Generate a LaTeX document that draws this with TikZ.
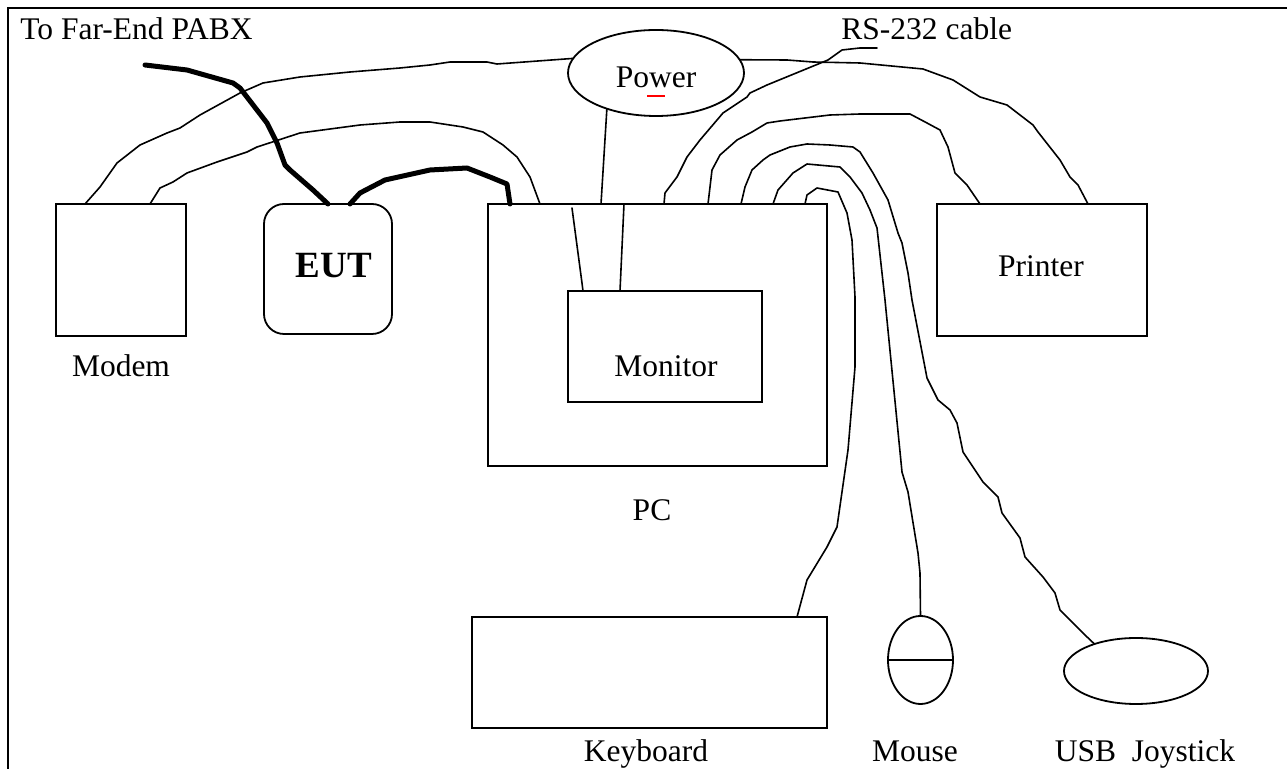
\documentclass[tikz,border=0pt]{standalone}
\usepackage{fontspec}
\setmainfont{Liberation Serif}
\usetikzlibrary{shapes.geometric,calc}
\tikzset{
  box/.style={draw, line width=0.9pt, inner sep=0pt, outer sep=0pt},
  oval/.style={draw, ellipse, line width=0.9pt, inner sep=0pt, outer sep=0pt},
  cable/.style={line width=0.8pt, line join=round, line cap=round},
  heavy/.style={line width=2.5pt, line join=round, line cap=round},
  lbl/.style={anchor=base, inner sep=0pt, font=\fontsize{15.75}{18}\selectfont},
  lblw/.style={anchor=base west, inner sep=0pt, font=\fontsize{15.75}{18}\selectfont},
}
\begin{document}
\begin{tikzpicture}[x=0.5pt,y=-0.5pt]
\useasboundingbox (0,0) rectangle (1287,769);
% frame
\draw[line width=1pt] (1287,8) -- (8,8) -- (8,769);

% devices
\node[box, minimum width=65pt, minimum height=66pt] (modem) at (121,270) {};
\node[box, rounded corners=10pt, minimum width=64pt, minimum height=65pt] (eut) at (328,269) {};
\node[box, minimum width=169.5pt, minimum height=131pt] (pc) at (657.5,335) {};
\node[box, minimum width=97pt, minimum height=55.5pt] (mon) at (665,346.5) {};
\node[box, minimum width=105pt, minimum height=66pt] (pr) at (1042,270) {};
\node[oval, minimum width=88pt, minimum height=43pt] (pw) at (656,73) {};
\node[box, minimum width=177.5pt, minimum height=55.5pt] (kb) at (649.5,672.5) {};
\node[oval, minimum width=32.5pt, minimum height=44pt] (mouse) at (920.5,660) {};
\node[oval, minimum width=72pt, minimum height=33pt] (joy) at (1136,671) {};
\draw[line width=0.9pt] (mouse.west) -- (mouse.east);

% labels
\node[lblw] (tpabx) at (20,40) {To Far-End PABX};
\node[lblw] (trs) at (841,40) {RS-232 cable};
\node[lbl] (tpw) at (656,88) {Power};
\draw[red, line width=1.2pt] (647,96) -- (665,96);
\node[lbl] (tmodem) at (121,377) {Modem};
\node[lbl, font=\fontsize{18.5}{22}\selectfont\bfseries] (teut) at (334,278) {EUT};
\node[lbl] (tmon) at (666,377) {Monitor};
\node[lbl] (tpr) at (1041,277) {Printer};
\node[lbl] (tpc) at (652,521) {PC};
\node[lbl] (tkb) at (646,762) {Keyboard};
\node[lbl] (tmouse) at (915,762) {Mouse};
\node[lbl] (tjoy) at (1145,762) {USB\ \ Joystick};

% free ends
\coordinate (pabx) at (145,65);
\coordinate (rsend) at (877,48);
\coordinate (monin) at (572,208);

% thick cables
\draw[heavy] (pabx) -- (187,70) -- (233,83) -- (240,88) -- (267,123) -- (277,143) -- (285,165) -- (290,170) -- (313,190) -- (eut.north);
\draw[heavy] (350,0 |- eut.north) -- (360,193) -- (385,180) -- (430,170) -- (467,168) -- (490,177) -- (507,184) -- (510,0 |- pc.north);

% modem cables
\draw[cable] (85,0 |- modem.north) -- (100,187) -- (117,163) -- (140,145) -- (167,133) -- (180,128) -- (200,115) -- (240,93) -- (263,83) -- (300,77) -- (350,72) -- (400,68) -- (430,65) -- (450,62) -- (487,62) -- (497,64) -- (pw.170);
\draw[cable] (150,0 |- modem.north) -- (160,188) -- (173,182) -- (187,173) -- (217,162) -- (247,152) -- (257,147) -- (300,133) -- (360,125) -- (400,122) -- (430,122) -- (463,127) -- (483,132) -- (503,145) -- (517,157) -- (530,177) -- (540,0 |- pc.north);

% power
\draw[cable] (pw.216) -- (601,0 |- pc.north);
\draw[cable] (pw.9) -- (787,60) -- (813,62) -- (860,63) -- (923,69) -- (953,80) -- (980,97) -- (1007,105) -- (1033,125) -- (1038,132) -- (1060,160) -- (1070,177) -- (1078,185) -- (1088,0 |- pr.north);

% monitor
\draw[cable] (monin) -- (582,283) -- (583,0 |- mon.north);
\draw[cable] (624,0 |- pc.north) -- (620,0 |- mon.north);

% RS-232
\draw[cable] (rsend) -- (860,48) -- (842,50) -- (828,60) -- (767,85) -- (750,93) -- (747,97) -- (723,113) -- (700,140) -- (687,157) -- (677,177) -- (665,193) -- (664,0 |- pc.north);

% PC to printer
\draw[cable] (708,0 |- pc.north) -- (712,170) -- (720,155) -- (737,140) -- (752,132) -- (767,123) -- (780,121) -- (830,115) -- (860,114) -- (910,114) -- (927,123) -- (940,130) -- (948,147) -- (955,173) -- (967,185) -- (980,0 |- pr.north);

% joystick
\draw[cable] (741,0 |- pc.north) -- (745,187) -- (752,170) -- (763,160) -- (770,155) -- (790,147) -- (807,144) -- (830,145) -- (853,147) -- (860,152) -- (873,173) -- (888,200) -- (898,233) -- (902,243) -- (908,273) -- (912,300) -- (927,378) -- (938,400) -- (950,410) -- (957,423) -- (963,452) -- (983,482) -- (998,497) -- (1002,513) -- (1020,538) -- (1025,557) -- (1043,577) -- (1055,593) -- (1060,610) -- (1085,635) -- (joy.147);

% mouse
\draw[cable] (773,0 |- pc.north) -- (778,190) -- (793,173) -- (807,164) -- (840,167) -- (850,177) -- (862,193) -- (870,210) -- (877,228) -- (882,273) -- (885,300) -- (902,472) -- (908,492) -- (918,553) -- (920,573) -- (mouse.north);

% keyboard
\draw[cable] (805,0 |- pc.north) -- (807,195) -- (817,188) -- (838,192) -- (847,213) -- (852,240) -- (855,297) -- (855,367) -- (848,450) -- (837,527) -- (827,547) -- (807,580) -- (797,0 |- kb.north);
\end{tikzpicture}
\end{document}
